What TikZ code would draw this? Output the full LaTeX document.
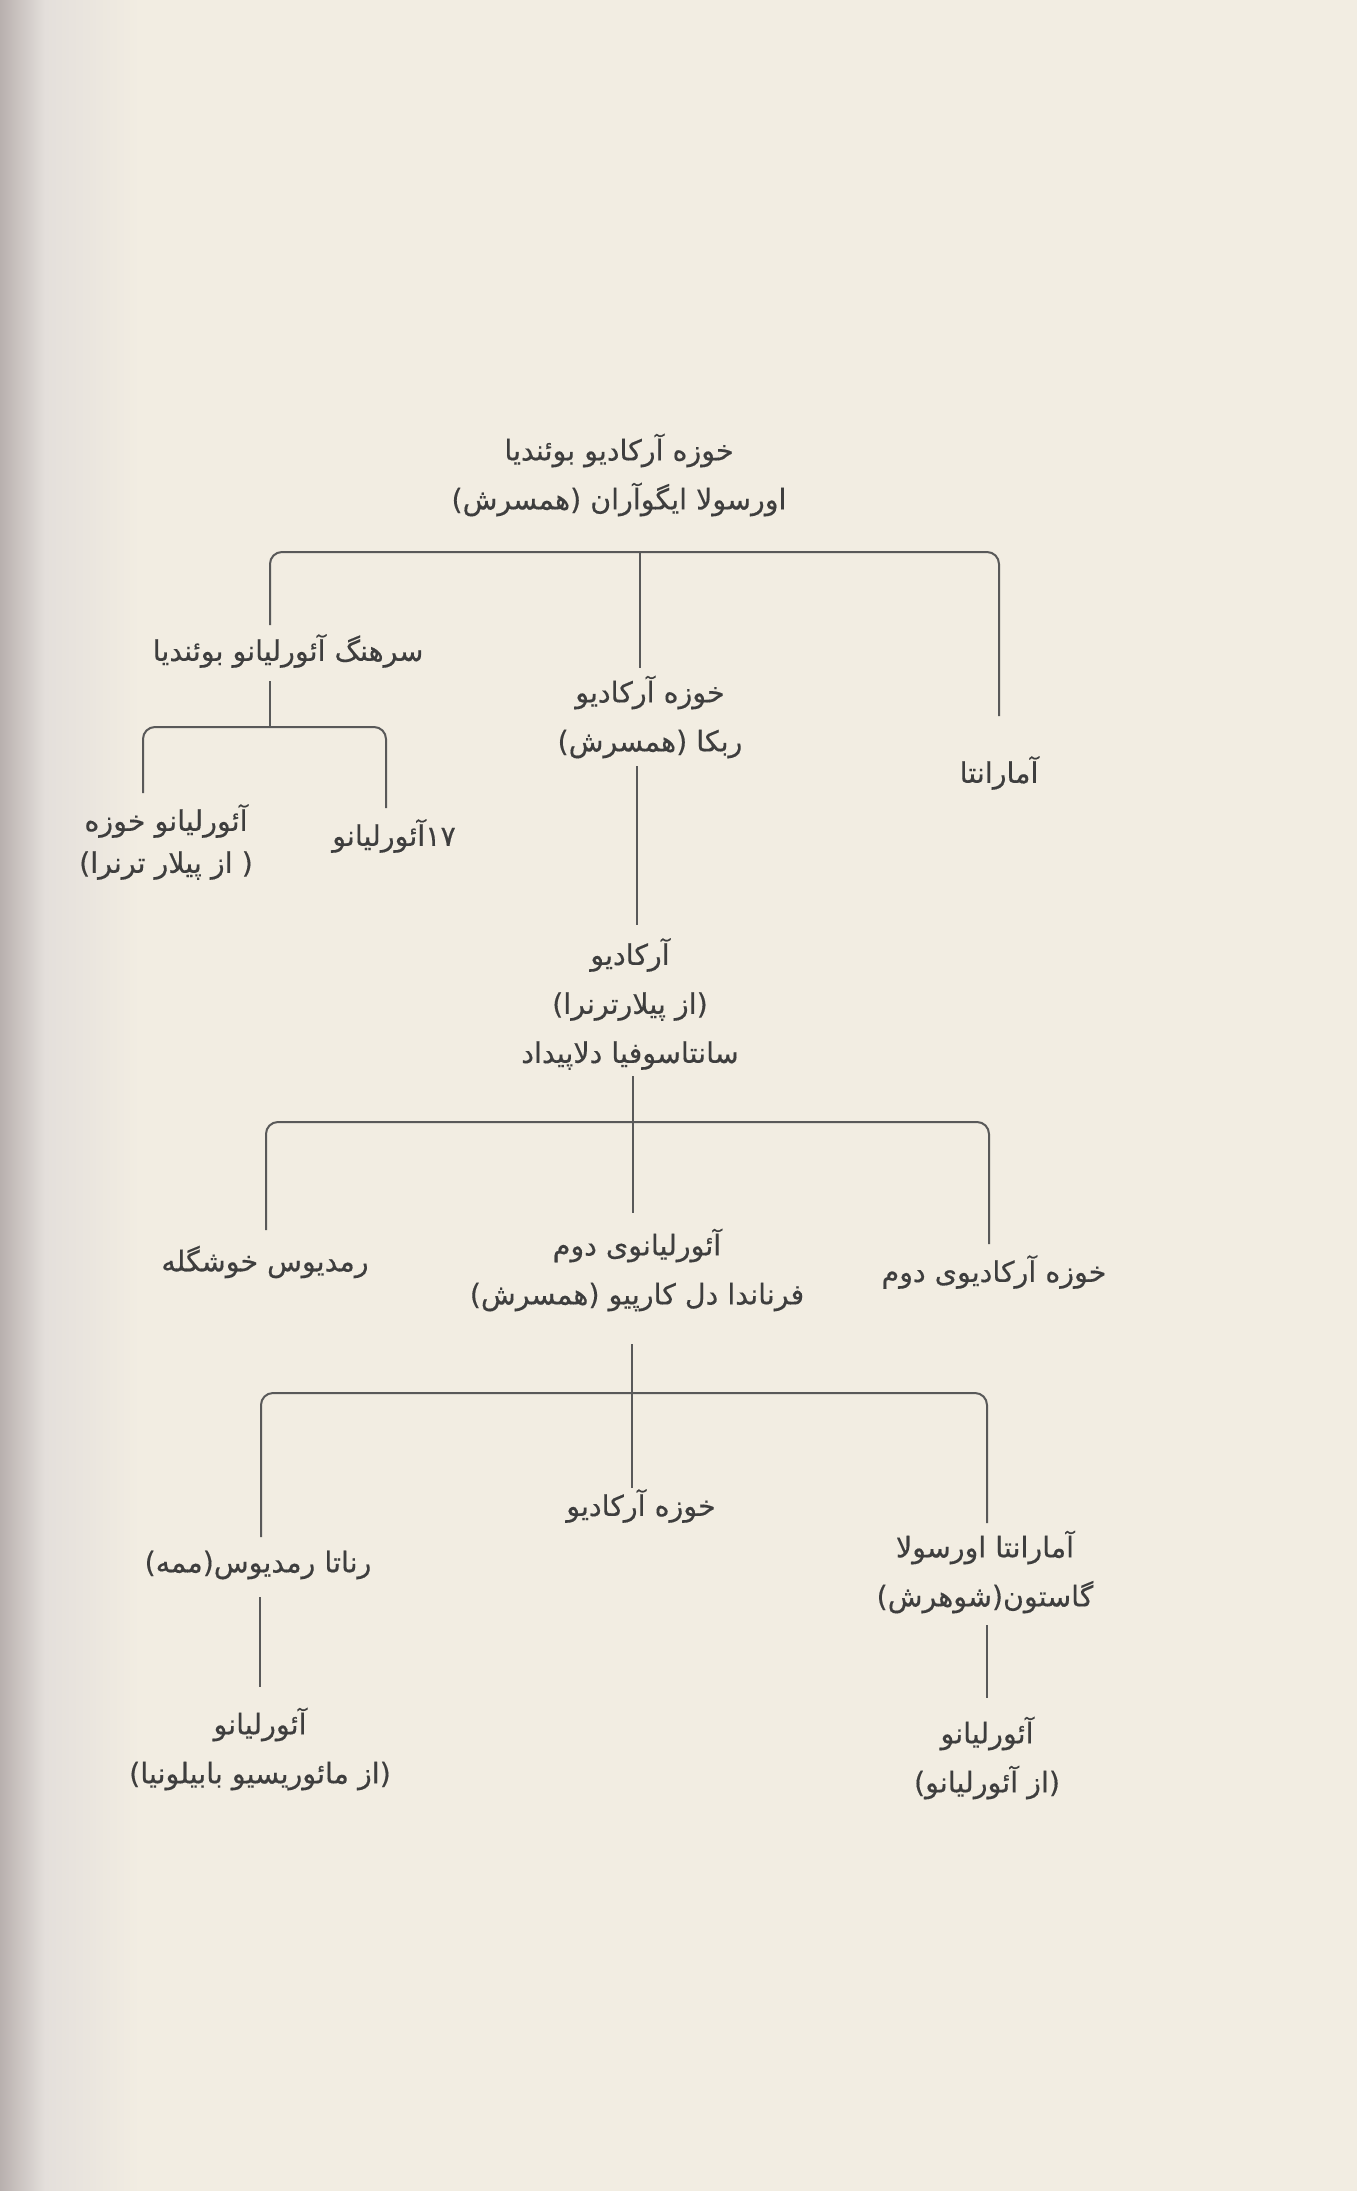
\documentclass[tikz,border=0pt]{standalone}
\usepackage{fontspec}
\TeXXeTstate=1
\newfontfamily\arabicfont[Script=Arabic,FakeBold=0.4]{DejaVu Sans}
\usetikzlibrary{calc}
\definecolor{paper}{HTML}{F2EDE2}
\definecolor{gutter}{HTML}{B8B0AE}
\definecolor{gutterb}{HTML}{E4DFDB}
\definecolor{ink}{HTML}{3E3E3E}
\definecolor{linec}{HTML}{595959}
\tikzset{
  person/.style={font=\arabicfont\fontsize{28.5}{49}\selectfont, text=ink, align=center, inner sep=0pt},
  link/.style={draw=linec, line width=2pt, rounded corners=12pt}
}
\newcommand{\rl}[1]{\beginR #1\endR}
\begin{document}
\begin{tikzpicture}[x=1pt,y=-1pt]
\useasboundingbox (0,0) rectangle (1357,2191);
\fill[paper] (0,0) rectangle (1357,2191);
\shade[left color=gutter, right color=gutterb] (0,0) rectangle (45,2191);
\shade[left color=gutterb, right color=paper] (45,0) rectangle (140,2191);

% people
\node[person] (top) at (619,475) {\rl{خوزه آرکادیو بوئندیا}\\\rl{اورسولا ایگوآران (همسرش)}};
\node[person] (sarhang) at (288,651) {\rl{سرهنگ آئورلیانو بوئندیا}};
\node[person] (khozeh1) at (650,717) {\rl{خوزه آرکادیو}\\\rl{ربکا (همسرش)}};
\node[person] (amaranta1) at (999,773) {\rl{آمارانتا}};
\node[person, font=\arabicfont\fontsize{28.5}{42}\selectfont] (aurjose) at (166,842) {\rl{آئورلیانو خوزه}\\\rl{( از پیلار ترنرا)}};
\node[person] (aur17) at (394,836) {\rl{۱۷آئورلیانو}};
\node[person] (arcadio) at (630,1004) {\rl{آرکادیو}\\\rl{(از پیلارترنرا)}\\\rl{سانتاسوفیا دلاپیداد}};
\node[person] (remedios) at (265,1262) {\rl{رمدیوس خوشگله}};
\node[person] (aur2) at (637,1270) {\rl{آئورلیانوی دوم}\\\rl{فرناندا دل کارپیو (همسرش)}};
\node[person] (khozeh2) at (994,1272) {\rl{خوزه آرکادیوی دوم}};
\node[person] (khozeh3) at (641,1506) {\rl{خوزه آرکادیو}};
\node[person] (renata) at (258,1565) {\rl{رناتا رمدیوس(ممه)}};
\node[person] (amaranta2) at (985,1572) {\rl{آمارانتا اورسولا}\\\rl{گاستون(شوهرش)}};
\node[person] (aur4) at (260,1749) {\rl{آئورلیانو}\\\rl{(از مائوریسیو بابیلونیا)}};
\node[person] (aur5) at (987,1758) {\rl{آئورلیانو}\\\rl{(از آئورلیانو)}};

% connector ends
\coordinate (b1L) at (270,625);  \coordinate (b1M) at (640,552);
\coordinate (b1R) at (999,716);  \coordinate (b1C) at (640,668);
\coordinate (s2T) at (270,681);  \coordinate (b2M) at (270,727);
\coordinate (b2L) at (143,793);  \coordinate (b2R) at (386,808);
\coordinate (k1B) at (637,766);  \coordinate (arT) at (637,925);
\coordinate (arB) at (633,1076); \coordinate (b3M) at (633,1122);
\coordinate (a2T) at (633,1213);
\coordinate (b3L) at (266,1230); \coordinate (b3R) at (989,1244);
\coordinate (a2B) at (632,1344); \coordinate (b4M) at (632,1393);
\coordinate (k3T) at (632,1488);
\coordinate (b4L) at (261,1537); \coordinate (b4R) at (987,1523);
\coordinate (reB) at (260,1597); \coordinate (a4T) at (260,1687);
\coordinate (amB) at (987,1625); \coordinate (a5T) at (987,1698);

% bars
\draw[link] (b1L) |- (b1M) -| (b1R);
\draw[link] (b1M) -- (b1C);
\draw[link] (s2T) -- (b2M);
\draw[link] (b2L) |- (b2M) -| (b2R);
\draw[link] (k1B) -- (arT);
\draw[link] (arB) -- (a2T);
\draw[link] (b3L) |- (b3M) -| (b3R);
\draw[link] (a2B) -- (k3T);
\draw[link] (b4L) |- (b4M) -| (b4R);
\draw[link] (reB) -- (a4T);
\draw[link] (amB) -- (a5T);
\end{tikzpicture}
\end{document}
